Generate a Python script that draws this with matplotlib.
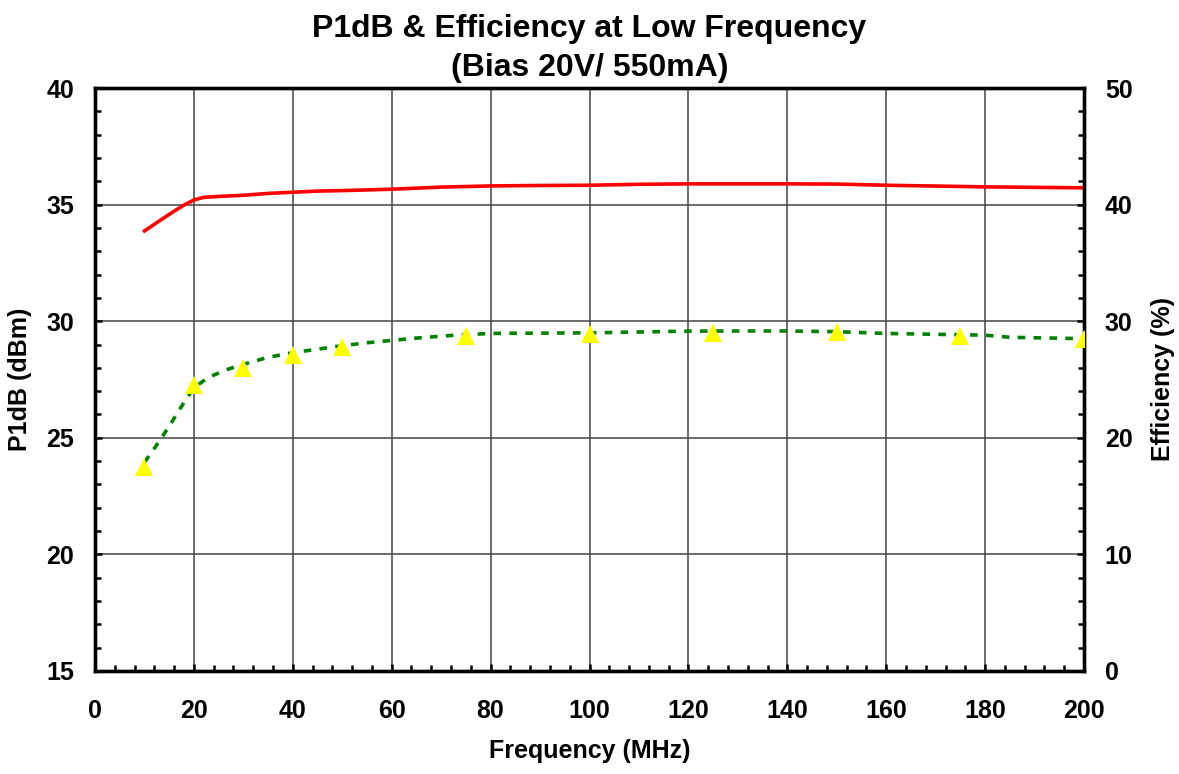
import matplotlib
matplotlib.use("Agg")
import matplotlib.pyplot as plt
from matplotlib.ticker import MultipleLocator

plt.rcParams['font.family'] = ['Liberation Sans', 'DejaVu Sans']
plt.rcParams['font.weight'] = 'bold'

# P1dB curve (dBm)
freq_p1db = [10, 13, 16, 18, 20, 22, 25, 30, 35, 40, 45, 50, 55, 60, 70, 80, 90, 100, 110, 120, 140, 150, 160, 180, 200]
p1db = [33.87, 34.3, 34.72, 34.98, 35.2, 35.31, 35.35, 35.4, 35.48, 35.53, 35.58, 35.6, 35.63, 35.66, 35.75, 35.8, 35.82, 35.83, 35.87, 35.89, 35.89, 35.88, 35.83, 35.76, 35.72]

# efficiency curve (%)
freq_eff = [10, 12.5, 15, 17.5, 20, 23, 27, 30, 35, 40, 45, 50, 55, 60, 65, 70, 75, 80, 100, 120, 140, 150, 160, 180, 185, 200]
eff = [17.9, 19.4, 21.0, 22.7, 24.3, 25.2, 25.9, 26.3, 26.9, 27.3, 27.6, 27.9, 28.15, 28.35, 28.55, 28.72, 28.85, 28.95, 29.0, 29.15, 29.16, 29.1, 28.95, 28.8, 28.62, 28.5]

# measured efficiency points (triangles)
freq_pts = [10, 20, 30, 40, 50, 75, 100, 125, 150, 175, 200]
eff_pts = [17.5, 24.5, 26.0, 27.1, 27.8, 28.7, 28.9, 29.0, 29.1, 28.7, 28.45]

fig = plt.figure(figsize=(11.79, 7.74), dpi=100)
ax = fig.add_axes([0.0806, 0.1331, 0.8388, 0.7532])
ax2 = ax.twinx()

ax.plot(freq_p1db, p1db, color='#FF0000', lw=2.6, zorder=3)
ax2.plot(freq_eff, eff, color='#008000', lw=2.6, linestyle=(0, (2.1, 2.3)), zorder=3)
ax2.plot(freq_pts, eff_pts, linestyle='none', marker='^', markersize=12.5,
         color='#FFFF00', markeredgewidth=0, zorder=4)

ax.set_xlim(0, 200)
ax.set_ylim(15, 40)
ax2.set_ylim(0, 50)

ax.xaxis.set_major_locator(MultipleLocator(20))
ax.xaxis.set_minor_locator(MultipleLocator(4))
ax.yaxis.set_major_locator(MultipleLocator(5))
ax.yaxis.set_minor_locator(MultipleLocator(1))
ax2.yaxis.set_major_locator(MultipleLocator(10))
ax2.yaxis.set_minor_locator(MultipleLocator(2))

ax.grid(True, which='major', color='#444444', lw=1.1)
ax.set_axisbelow(True)

for a in (ax, ax2):
    for s in a.spines.values():
        s.set_linewidth(2.4)
        s.set_color('black')

ax.tick_params(axis='x', which='major', direction='in', length=5, width=1.8, labelsize=18, pad=20)
ax.tick_params(axis='x', which='minor', direction='in', length=4, width=1.8)
ax.tick_params(axis='y', which='major', direction='in', length=5, width=1.8, labelsize=18, pad=15)
ax.tick_params(axis='y', which='minor', direction='in', length=4, width=1.8)
ax2.tick_params(axis='y', which='major', direction='in', length=5, width=1.8, labelsize=18, pad=15)
ax2.tick_params(axis='y', which='minor', direction='in', length=4, width=1.8)

ax.set_xlabel('Frequency (MHz)', fontsize=18, fontweight='bold', labelpad=12)
ax.set_ylabel('P1dB (dBm)', fontsize=18, fontweight='bold', labelpad=10)
ax2.set_ylabel('Efficiency (%)', fontsize=18, fontweight='bold', labelpad=13)

fig.suptitle('P1dB & Efficiency at Low Frequency\n(Bias 20V/ 550mA)',
             fontsize=23, fontweight='bold', y=0.982, linespacing=1.38)

fig.savefig('out.png', dpi=100)
